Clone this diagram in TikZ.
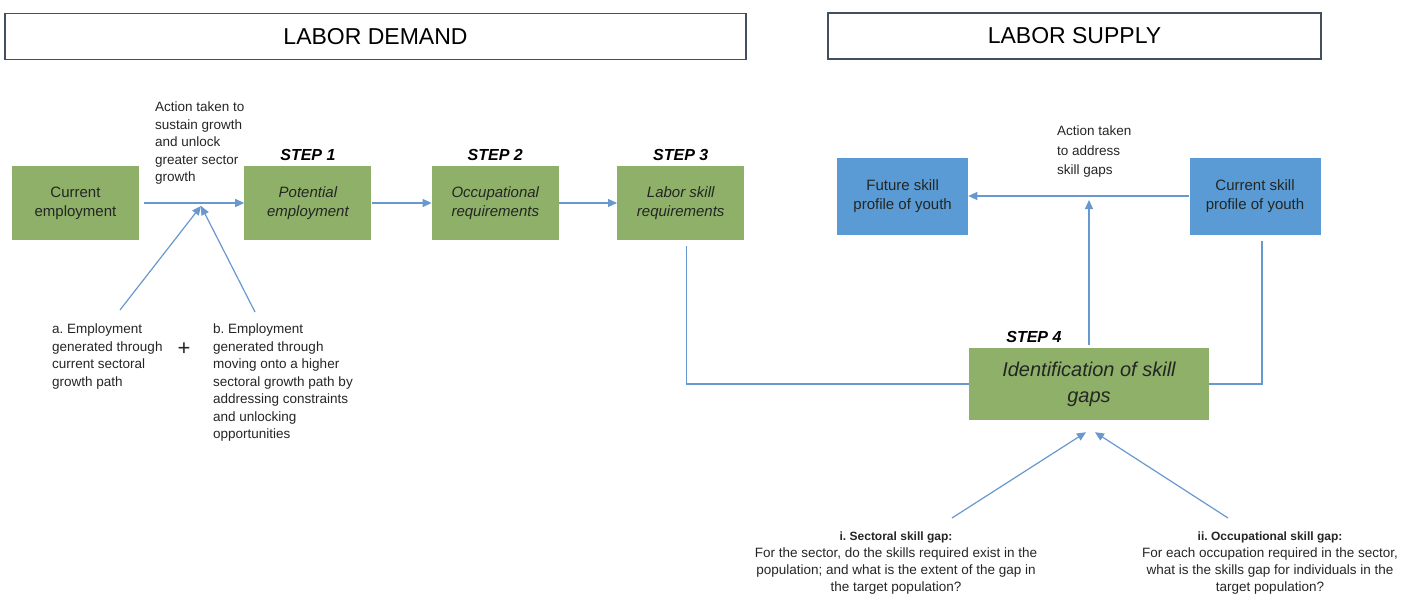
\documentclass[tikz,border=0pt]{standalone}
\usepackage{fontspec}
\setmainfont{Liberation Sans}
\usetikzlibrary{positioning,arrows.meta,calc}

\definecolor{stepgreen}{RGB}{143,176,104}
\definecolor{youthblue}{RGB}{91,155,213}
\definecolor{linkblue}{RGB}{104,152,206}
\definecolor{framegray}{RGB}{66,80,94}
\definecolor{inktext}{RGB}{35,38,35}

\tikzset{
  header/.style={draw=framegray, line width=1.1pt, minimum height=46pt, font=\fontsize{23}{26}\selectfont},
  stepbox/.style={fill=stepgreen, minimum width=127pt, minimum height=74pt, align=center, text=inktext, font=\fontsize{15}{19}\selectfont\itshape},
  youthbox/.style={fill=youthblue, minimum width=131pt, minimum height=77pt, align=center, text=inktext, font=\fontsize{15}{19}\selectfont},
  steplabel/.style={font=\fontsize{16}{19}\selectfont\bfseries\itshape},
  note/.style={align=left, inner sep=0pt, text=inktext, font=\fontsize{13.5}{17.5}\selectfont},
  link/.style={draw=linkblue, line width=1.2pt},
  arr/.style={link, -{Triangle[length=9pt,width=8pt]}},
}

\begin{document}
\begin{tikzpicture}[x=1pt,y=-1pt]
  \useasboundingbox (0,0) rectangle (1402,597);

  % headers
  \node[header, minimum width=741pt] (demand) at (375.5,36.5) {LABOR DEMAND};
  \node[header, minimum width=493pt] (supply) at (1074.5,36) {LABOR SUPPLY};

  % labor demand chain
  \node[stepbox, font=\fontsize{15}{19}\selectfont] (curemp) at (75.5,203) {Current\\employment};
  \node[stepbox, right=105pt of curemp] (potemp) {Potential\\employment};
  \node[stepbox, right=60pt of potemp] (occreq) {Occupational\\requirements};
  \node[stepbox, right=58pt of occreq] (labreq) {Labor skill\\requirements};

  \node[steplabel, above=2pt of potemp] (step1) {STEP 1};
  \node[steplabel, above=2pt of occreq] (step2) {STEP 2};
  \node[steplabel, above=2pt of labreq] (step3) {STEP 3};

  % labor supply
  \node[youthbox] (cursk) at (1255,196) {Current skill\\profile of youth};
  \node[youthbox, left=221pt of cursk] (futsk) {Future skill\\profile of youth};

  \node[stepbox, minimum width=240pt, minimum height=72pt, font=\fontsize{20}{26}\selectfont\itshape] (idgap) at (1089,384) {Identification of skill\\gaps};
  \node[steplabel, above right=2pt and 34pt of idgap.north west] (step4) {STEP 4};

  % notes
  \node[note, anchor=north west] (action) at (155,102) {Action taken to\\sustain growth\\and unlock\\greater sector\\growth};
  \node[note, anchor=north west] (emplA) at (52,324) {a.\ Employment\\generated through\\current sectoral\\growth path};
  \node[note, anchor=north west] (emplB) at (213,324) {b.\ Employment\\generated through\\moving onto a higher\\sectoral growth path by\\addressing constraints\\and unlocking\\opportunities};
  \node[font=\fontsize{22}{22}\selectfont, text=inktext] (plus) at (184,349) {+};
  \node[note, anchor=north west, font=\fontsize{13.5}{19.5}\selectfont] (address) at (1057,126) {Action taken\\to address\\skill gaps};
  \node[note, align=center, anchor=north, font=\fontsize{13.5}{16.7}\selectfont] (sectgap) at (896,532) {{\bfseries\fontsize{12}{16.7}\selectfont i.\ Sectoral skill gap:}\\For the sector, do the skills required exist in the\\population; and what is the extent of the gap in\\the target population?};
  \node[note, align=center, anchor=north, font=\fontsize{13.5}{16.7}\selectfont] (occgap) at (1270,532) {{\bfseries\fontsize{12}{16.7}\selectfont ii.\ Occupational skill gap:}\\For each occupation required in the sector,\\what is the skills gap for individuals in the\\target population?};

  % connectors
  \coordinate (meet) at (201,206);
  \coordinate (afoot) at (120,310);
  \coordinate (bfoot) at (255,312);
  \coordinate (ifoot) at (952,518);
  \coordinate (iifoot) at (1228,518);

  \draw[arr, shorten <=5pt] (curemp) -- (potemp);
  \draw[arr] (afoot) -- (meet);
  \draw[arr] (bfoot) -- (meet);
  \draw[arr] (potemp) -- (occreq);
  \draw[arr] (occreq) -- (labreq);
  \draw[link] ([xshift=6pt,yshift=-6pt]labreq.south) |- (idgap.west);
  \draw[link] ([xshift=7pt,yshift=-6pt]cursk.south) |- (idgap.east);
  \draw[arr] (cursk) -- (futsk);
  \draw[arr, shorten >=4pt] ([yshift=3pt]idgap.north) -- (idgap.north |- cursk);
  \draw[arr] (ifoot) -- ([xshift=-3pt,yshift=-12pt]idgap.south);
  \draw[arr] (iifoot) -- ([xshift=6pt,yshift=-12pt]idgap.south);
\end{tikzpicture}
\end{document}
